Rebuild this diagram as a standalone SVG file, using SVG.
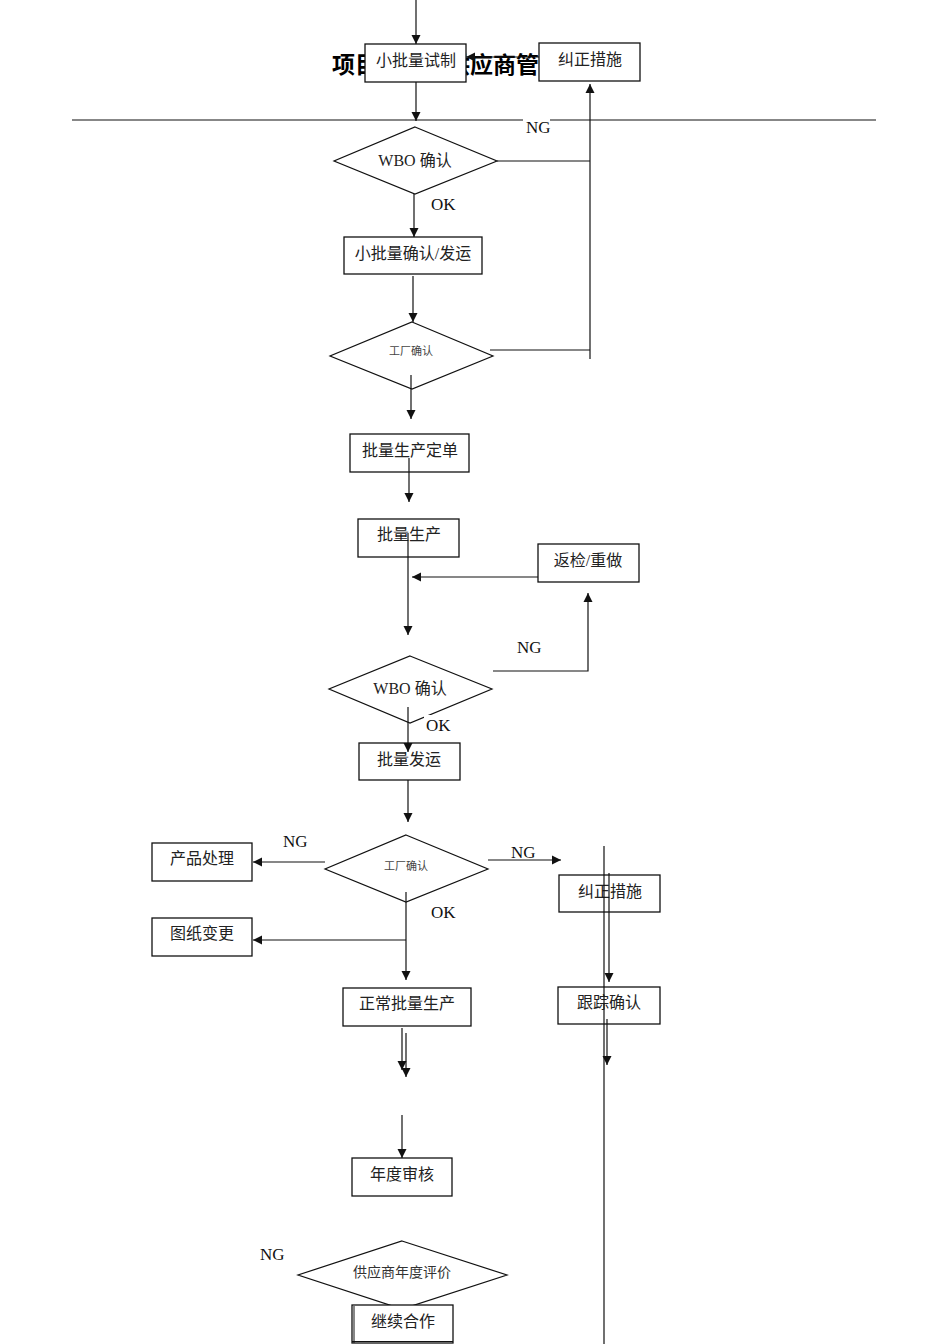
<svg xmlns="http://www.w3.org/2000/svg" width="950" height="1344" viewBox="0 0 950 1344">
<defs>
<style>
.box{fill:#fff;stroke:#111;stroke-width:1.3}
.dia{fill:#fff;stroke:#111;stroke-width:1.2}
.ln{fill:none;stroke:#111;stroke-width:1.2}
.t{font-family:"Liberation Serif","Noto Sans CJK SC",serif;font-size:16px;fill:#222;text-anchor:middle}
.s{font-family:"Liberation Serif","Noto Sans CJK SC",serif;font-size:11px;fill:#444;text-anchor:middle}
.m{font-family:"Liberation Serif","Noto Sans CJK SC",serif;font-size:14px;fill:#333;text-anchor:middle}
.lb{font-family:"Liberation Serif","Noto Sans CJK SC",serif;font-size:17px;fill:#111}
.title{font-family:"Noto Sans CJK SC",sans-serif;font-size:23px;font-weight:bold;fill:#000}
</style>
<marker id="arr" viewBox="0 0 10 10" refX="10" refY="5" markerWidth="9" markerHeight="10" markerUnits="userSpaceOnUse" orient="auto">
<path d="M0,0 L10,5 L0,10 z" fill="#111"/>
</marker>
</defs>
<rect width="950" height="1344" fill="#fff"/>

<g id="title">
<text class="title" x="332" y="73">项目</text>
<text class="title" x="447" y="73">供应商管</text>
</g>
<line x1="72" y1="120" x2="876" y2="120" stroke="#111" stroke-width="1.2"/>

<g id="n_trial"><rect class="box" x="365" y="44" width="101" height="38"/><text class="t" x="416" y="66">小批量试制</text></g>
<g id="n_correct1"><rect class="box" x="539" y="43" width="101" height="38"/><text class="t" x="590" y="65">纠正措施</text></g>
<g id="n_ng_top"><rect x="523" y="116" width="27" height="22" fill="#fff"/><text class="lb" x="526" y="133">NG</text></g>
<g id="n_wbo1"><polygon class="dia" points="415,127 497,161 415,194 334,161"/><text class="t" x="415" y="166">WBO 确认</text></g>
<g id="n_ok1"><text class="lb" x="431" y="210">OK</text></g>
<g id="n_smallship"><rect class="box" x="344" y="237" width="138" height="37"/><text class="t" x="413" y="259">小批量确认/发运</text></g>
<g id="n_factory1"><polygon class="dia" points="412,322 493,356 412,389 330,356"/><text class="s" x="411" y="355">工厂确认</text></g>
<g id="n_order"><rect class="box" x="350" y="434" width="119" height="38"/><text class="t" x="410" y="456">批量生产定单</text></g>
<g id="n_mass"><rect class="box" x="358" y="519" width="101" height="38"/><text class="t" x="409" y="540">批量生产</text></g>
<g id="n_rework"><rect class="box" x="538" y="544" width="101" height="38"/><text class="t" x="588" y="566">返检/重做</text></g>
<g id="n_ng2"><text class="lb" x="517" y="653">NG</text></g>
<g id="n_wbo2"><polygon class="dia" points="410,656 492,689 410,723 329,689"/><text class="t" x="410" y="694">WBO 确认</text></g>
<g id="n_ok2"><rect x="424" y="715" width="28" height="20" fill="#fff"/><text class="lb" x="426" y="731">OK</text></g>
<g id="n_ship"><rect class="box" x="359" y="743" width="101" height="37"/><text class="t" x="409" y="765">批量发运</text></g>
<g id="n_factory2"><polygon class="dia" points="406,835 488,869 406,902 325,869"/><text class="s" x="406" y="870">工厂确认</text></g>
<g id="n_ng3"><text class="lb" x="283" y="847">NG</text></g>
<g id="n_product"><rect class="box" x="152" y="843" width="100" height="38"/><text class="t" x="202" y="864">产品处理</text></g>
<g id="n_drawing"><rect class="box" x="152" y="918" width="100" height="38"/><text class="t" x="202" y="939">图纸变更</text></g>
<g id="n_ok3"><text class="lb" x="431" y="918">OK</text></g>
<g id="n_ng4"><text class="lb" x="511" y="858">NG</text></g>
<g id="n_correct2"><rect class="box" x="559" y="875" width="101" height="37"/><text class="t" x="610" y="897">纠正措施</text></g>
<g id="n_normal"><rect class="box" x="343" y="988" width="128" height="38"/><text class="t" x="407" y="1009">正常批量生产</text></g>
<g id="n_track"><rect class="box" x="558" y="987" width="102" height="37"/><text class="t" x="609" y="1008">跟踪确认</text></g>
<g id="n_audit"><rect class="box" x="352" y="1158" width="100" height="38"/><text class="t" x="402" y="1180">年度审核</text></g>
<g id="n_ng5"><text class="lb" x="260" y="1260">NG</text></g>
<g id="n_eval"><polygon class="dia" points="402,1241 507,1275 402,1309 298,1275"/><text class="m" x="402" y="1277">供应商年度评价</text></g>
<g id="n_continue"><rect class="box" x="352" y="1305" width="101" height="38"/><line x1="354" y1="1306" x2="354" y2="1343" stroke="#111" stroke-width="1"/><line x1="352" y1="1341.5" x2="453" y2="1341.5" stroke="#111" stroke-width="1"/><text class="t" x="403" y="1327">继续合作</text></g>

<g id="connectors">
<path class="ln" d="M416,0 V44" marker-end="url(#arr)"/>
<path class="ln" d="M539,57 H466" marker-end="url(#arr)"/>
<path class="ln" d="M416,82 V121" marker-end="url(#arr)"/>
<path class="ln" d="M497,161 H590"/>
<path class="ln" d="M590,359 V84" marker-end="url(#arr)"/>
<path class="ln" d="M490,350 H590"/>
<path class="ln" d="M414,194 V237" marker-end="url(#arr)"/>
<path class="ln" d="M413,276 V322" marker-end="url(#arr)"/>
<path class="ln" d="M411,375 V419" marker-end="url(#arr)"/>
<path class="ln" d="M409,458 V502" marker-end="url(#arr)"/>
<path class="ln" d="M408,533 V635" marker-end="url(#arr)"/>
<path class="ln" d="M538,577 H412" marker-end="url(#arr)"/>
<path class="ln" d="M493,671 H588 V593" marker-end="url(#arr)"/>
<path class="ln" d="M408,707 V752" marker-end="url(#arr)"/>
<path class="ln" d="M408,780 V822" marker-end="url(#arr)"/>
<path class="ln" d="M325,862 H253" marker-end="url(#arr)"/>
<path class="ln" d="M488,860 H561" marker-end="url(#arr)"/>
<path class="ln" d="M406,892 V980" marker-end="url(#arr)"/>
<path class="ln" d="M406,940 H253" marker-end="url(#arr)"/>
<path class="ln" d="M604,846 V1344"/>
<path class="ln" d="M609,873 V982" marker-end="url(#arr)"/>
<path class="ln" d="M607,1019 V1065" marker-end="url(#arr)"/>
<path class="ln" d="M402,1028 V1070" marker-end="url(#arr)"/>
<path class="ln" d="M406,1033 V1077" marker-end="url(#arr)"/>
<path class="ln" d="M402,1115 V1158" marker-end="url(#arr)"/>
</g>
</svg>
